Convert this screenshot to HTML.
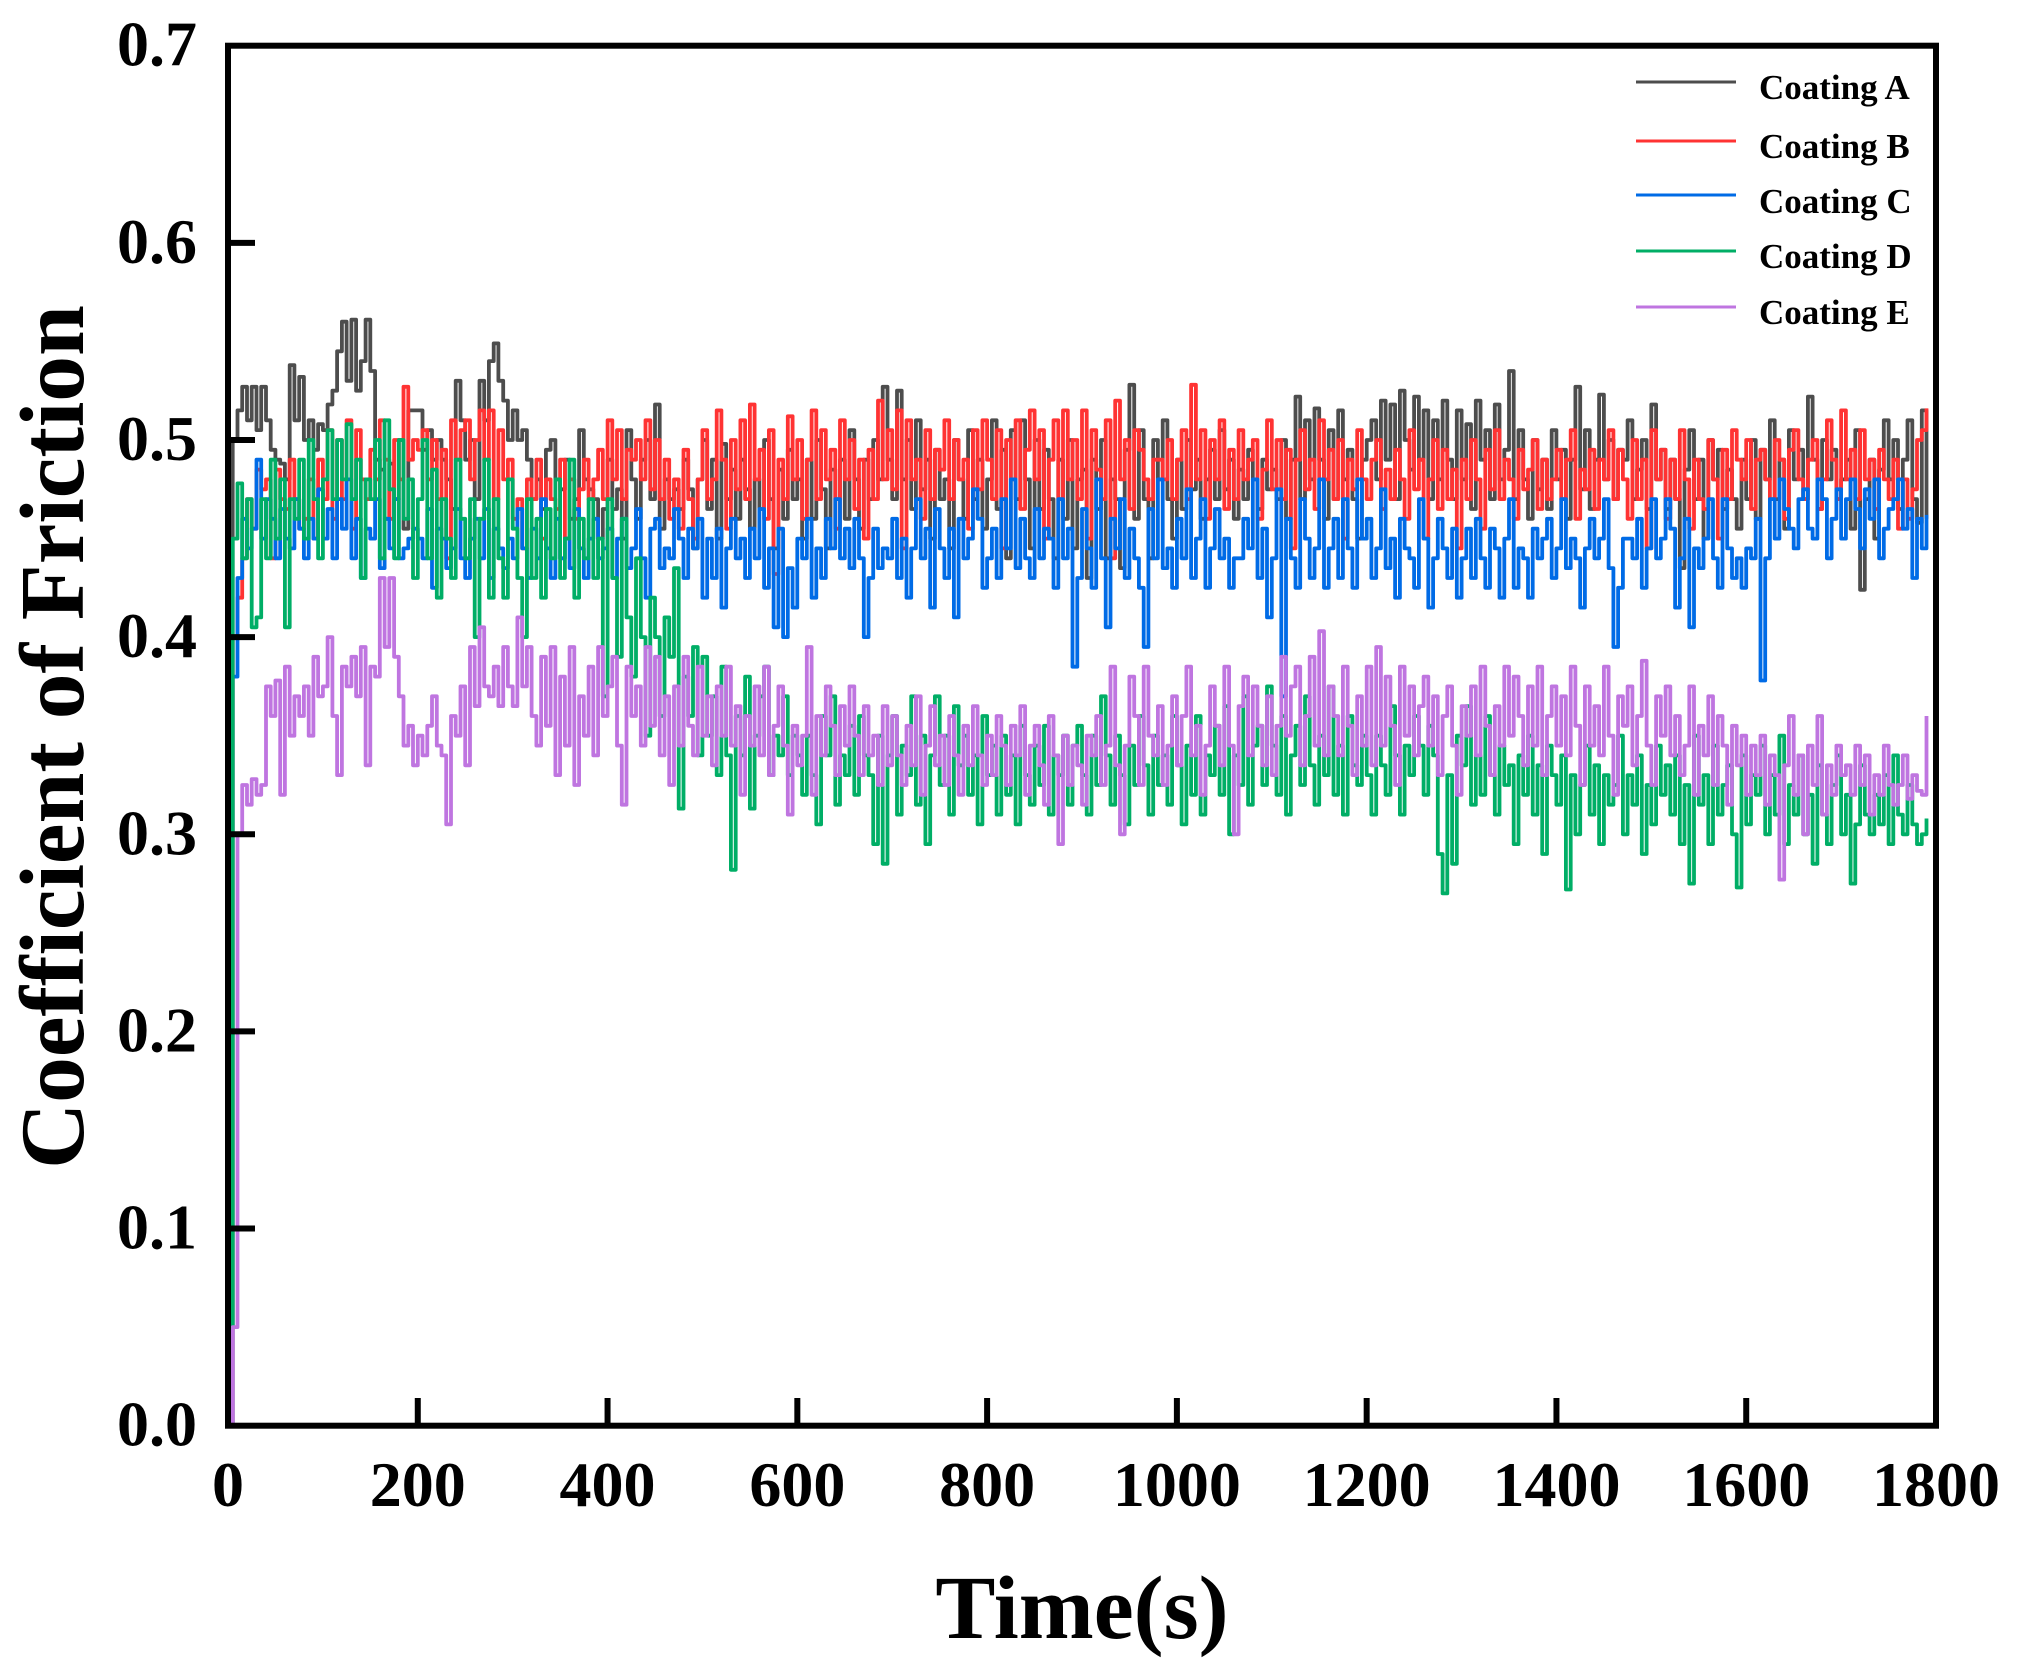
<!DOCTYPE html>
<html>
<head>
<meta charset="utf-8">
<title>Coefficient of Friction vs Time</title>
<style>
html,body{margin:0;padding:0;background:#fff;}
svg{display:block;}
text{font-family:"Liberation Serif",serif;font-weight:bold;fill:#000;}
</style>
</head>
<body>
<svg id="chart" xmlns="http://www.w3.org/2000/svg" width="2017" height="1674" viewBox="0 0 2017 1674">
<rect x="0" y="0" width="2017" height="1674" fill="#fff"/>
<g id="series"></g>
<rect x="228" y="45.7" width="1708" height="1380" fill="none" stroke="#000" stroke-width="6"/>
<g id="ticks"></g>
<text transform="translate(83,737) rotate(-90)" text-anchor="middle" font-size="91.5">Coefficient of Friction</text>
<text x="1082" y="1638" text-anchor="middle" font-size="90">Time(s)</text>
<g>
<line x1="1636" x2="1736" y1="82" y2="82" stroke="#4d4d4d" stroke-width="3"/>
<text x="1759" y="99" font-size="35">Coating A</text>
<line x1="1636" x2="1736" y1="141" y2="141" stroke="#ff3333" stroke-width="3"/>
<text x="1759" y="158" font-size="35">Coating B</text>
<line x1="1636" x2="1736" y1="195" y2="195" stroke="#006be6" stroke-width="3"/>
<text x="1759" y="213" font-size="35">Coating C</text>
<line x1="1636" x2="1736" y1="251" y2="251" stroke="#00ae66" stroke-width="3"/>
<text x="1759" y="268" font-size="35">Coating D</text>
<line x1="1636" x2="1736" y1="307" y2="307" stroke="#bf75e0" stroke-width="3"/>
<text x="1759" y="324" font-size="35">Coating E</text>
</g>
</svg>
<script>
const sampleStepSeconds = 5;
const xTickLabels = ["0","200","400","600","800","1000","1200","1400","1600","1800"];
const yTickLabels = ["0.0","0.1","0.2","0.3","0.4","0.5","0.6","0.7"];

const coatingA = [
0,.500,.515,.527,.510,.527,.505,.527,.510,.495,.490,.488,.480,.538,.510,.532,.500,.510,.495,.508,
.505,.518,.525,.545,.560,.530,.561,.525,.540,.561,.535,.490,.485,.460,.488,.470,.500,.455,.515,.515,
.515,.495,.505,.490,.500,.490,.480,.465,.530,.510,.490,.500,.470,.530,.510,.540,.549,.530,.520,.500,
.515,.500,.505,.490,.470,.480,.465,.495,.500,.480,.475,.490,.460,.470,.505,.480,.475,.470,.450,.465,
.490,.465,.475,.450,.505,.480,.460,.490,.500,.470,.518,.455,.480,.470,.475,.465,.490,.475,.445,.480,
.500,.465,.490,.450,.498,.470,.485,.460,.490,.475,.455,.480,.465,.500,.470,.445,.485,.460,.495,.470,
.480,.450,.490,.460,.500,.475,.445,.485,.470,.490,.460,.505,.480,.455,.490,.470,.500,.480,.527,.490,
.470,.525,.480,.500,.465,.510,.475,.490,.450,.495,.470,.480,.445,.500,.480,.460,.505,.470,.490,.455,
.480,.510,.465,.495,.440,.505,.470,.510,.480,.445,.500,.465,.495,.470,.440,.490,.460,.500,.445,.480,
.485,.430,.490,.465,.500,.440,.480,.470,.435,.495,.528,.460,.505,.470,.440,.500,.480,.510,.470,.450,
.490,.465,.500,.475,.490,.460,.480,.495,.470,.505,.475,.490,.460,.485,.470,.495,.480,.465,.490,.475,
.485,.470,.500,.460,.490,.522,.470,.510,.480,.516,.490,.460,.505,.470,.515,.480,.495,.470,.450,.490,
.500,.510,.480,.520,.490,.518,.470,.525,.500,.485,.522,.490,.515,.470,.510,.480,.520,.490,.470,.515,
.480,.508,.465,.520,.490,.505,.470,.518,.480,.495,.535,.470,.505,.480,.460,.500,.475,.490,.465,.505,
.480,.495,.460,.490,.527,.475,.505,.465,.490,.523,.480,.500,.470,.495,.490,.510,.470,.485,.500,.465,
.518,.480,.495,.465,.490,.470,.435,.485,.505,.470,.490,.450,.500,.480,.495,.465,.485,.470,.455,.490,
.470,.500,.460,.495,.480,.510,.470,.490,.455,.505,.480,.495,.470,.522,.490,.465,.500,.480,.495,.470,
.480,.490,.455,.505,.424,.470,.490,.450,.485,.510,.480,.500,.465,.490,.510,.470,.458,.515,.460
];

const coatingB = [
0,.400,.420,.440,.470,.455,.485,.475,.480,.440,.485,.470,.465,.490,.470,.455,.460,.480,.450,.490,
.470,.505,.460,.500,.470,.510,.455,.505,.480,.470,.495,.480,.510,.490,.460,.500,.480,.527,.490,.500,
.495,.505,.480,.500,.470,.495,.440,.510,.490,.505,.510,.480,.500,.515,.490,.515,.470,.505,.480,.490,
.460,.470,.445,.480,.470,.490,.450,.480,.470,.465,.490,.450,.480,.460,.475,.490,.470,.480,.495,.470,
.510,.480,.505,.470,.495,.490,.500,.480,.510,.475,.500,.470,.490,.460,.480,.455,.495,.470,.450,.480,
.505,.470,.480,.515,.490,.455,.500,.475,.510,.470,.518,.480,.495,.460,.505,.432,.490,.470,.512,.480,
.500,.460,.490,.515,.470,.505,.480,.495,.455,.510,.480,.500,.465,.490,.450,.495,.470,.520,.480,.505,
.475,.515,.445,.510,.480,.490,.460,.505,.470,.495,.485,.510,.470,.500,.480,.490,.455,.505,.475,.510,
.490,.470,.505,.445,.500,.480,.510,.465,.495,.515,.480,.505,.450,.490,.510,.470,.515,.480,.500,.470,
.515,.450,.505,.485,.470,.510,.440,.520,.480,.500,.465,.505,.495,.480,.470,.490,.490,.480,.500,.470,
.490,.505,.470,.528,.480,.505,.460,.500,.480,.510,.465,.495,.470,.505,.480,.490,.500,.460,.485,.510,
.475,.500,.470,.495,.445,.490,.505,.475,.490,.465,.510,.480,.495,.470,.500,.450,.490,.475,.505,.480,
.470,.490,.500,.465,.485,.470,.495,.480,.460,.505,.475,.490,.450,.480,.500,.465,.495,.470,.485,.445,
.490,.470,.500,.480,.455,.495,.475,.505,.470,.490,.480,.460,.495,.475,.485,.500,.465,.490,.470,.480,
.495,.470,.490,.505,.460,.485,.475,.495,.465,.490,.480,.505,.470,.495,.480,.460,.500,.470,.490,.445,
.505,.480,.495,.460,.490,.470,.505,.480,.455,.490,.470,.465,.500,.480,.450,.495,.470,.505,.490,.480,
.500,.465,.490,.495,.480,.470,.500,.490,.460,.495,.505,.480,.470,.490,.500,.465,.480,.510,.490,.470,
.515,.480,.495,.470,.505,.480,.490,.465,.495,.480,.470,.490,.455,.480,.460,.475,.500,.505,.516
];

const coatingC = [
0,.380,.430,.460,.445,.455,.490,.450,.470,.460,.440,.465,.450,.445,.470,.455,.440,.460,.450,.475,
.450,.465,.440,.470,.455,.480,.440,.460,.430,.455,.450,.470,.435,.460,.445,.470,.440,.445,.450,.455,
.450,.440,.465,.425,.455,.450,.435,.445,.465,.440,.430,.450,.460,.440,.465,.430,.455,.445,.435,.450,
.440,.465,.445,.430,.455,.440,.470,.445,.430,.460,.440,.450,.435,.465,.445,.430,.450,.460,.440,.445,
.455,.430,.450,.460,.435,.445,.465,.440,.420,.455,.460,.435,.445,.440,.465,.450,.430,.455,.445,.460,
.420,.450,.430,.455,.415,.445,.460,.440,.450,.430,.455,.440,.465,.425,.445,.405,.455,.400,.435,.415,
.450,.440,.460,.420,.445,.430,.460,.445,.470,.440,.455,.435,.460,.440,.400,.430,.455,.435,.445,.440,
.460,.430,.450,.420,.445,.470,.440,.455,.415,.465,.445,.430,.455,.410,.460,.440,.450,.475,.460,.425,
.440,.455,.430,.470,.445,.480,.435,.460,.440,.430,.465,.440,.455,.450,.425,.470,.440,.455,.385,.430,
.465,.445,.425,.480,.440,.405,.460,.445,.470,.430,.455,.440,.425,.395,.465,.440,.480,.435,.445,.425,
.460,.440,.475,.430,.450,.470,.425,.445,.465,.440,.450,.425,.440,.440,.460,.445,.480,.430,.455,.410,
.440,.475,.370,.460,.440,.425,.470,.450,.430,.445,.480,.425,.445,.460,.430,.470,.445,.425,.480,.450,
.460,.430,.445,.475,.435,.450,.420,.460,.445,.440,.425,.470,.450,.415,.440,.460,.445,.430,.455,.420,
.440,.455,.430,.460,.440,.425,.455,.445,.420,.450,.470,.425,.445,.440,.420,.455,.440,.450,.460,.430,
.445,.470,.435,.450,.440,.415,.445,.460,.440,.450,.470,.435,.395,.425,.450,.450,.440,.460,.425,.445,
.470,.440,.450,.470,.455,.415,.440,.460,.405,.445,.435,.450,.470,.440,.425,.470,.445,.430,.440,.425,
.445,.440,.460,.378,.440,.470,.450,.480,.465,.455,.445,.470,.475,.455,.450,.480,.470,.440,.460,.475,
.450,.470,.480,.465,.445,.475,.460,.480,.440,.455,.465,.470,.480,.455,.465,.430,.460,.445,.462
];

const coatingD = [
.050,.450,.478,.440,.470,.405,.410,.470,.440,.490,.450,.480,.405,.470,.460,.490,.450,.500,.470,.440,
.480,.505,.470,.500,.480,.508,.470,.490,.430,.480,.470,.500,.440,.510,.475,.440,.500,.460,.480,.430,
.470,.500,.440,.485,.420,.470,.450,.430,.490,.460,.440,.470,.400,.460,.490,.420,.470,.440,.420,.480,
.455,.430,.400,.470,.430,.460,.420,.465,.440,.480,.430,.450,.490,.420,.460,.440,.470,.430,.450,.370,
.470,.430,.390,.460,.410,.380,.440,.400,.350,.420,.400,.360,.410,.390,.435,.313,.380,.360,.395,.340,
.390,.350,.370,.330,.385,.340,.282,.360,.340,.380,.313,.350,.370,.385,.330,.350,.340,.370,.330,.350,
.340,.320,.350,.330,.305,.360,.340,.370,.315,.340,.330,.355,.320,.360,.340,.330,.295,.350,.285,.340,
.360,.310,.345,.330,.370,.315,.350,.295,.340,.370,.325,.350,.310,.365,.335,.350,.320,.340,.305,.360,
.330,.345,.310,.350,.320,.340,.305,.355,.330,.315,.345,.325,.355,.310,.340,.330,.350,.315,.345,.355,
.330,.310,.350,.325,.370,.340,.315,.350,.330,.305,.345,.325,.360,.335,.310,.350,.325,.340,.315,.360,
.335,.305,.345,.320,.360,.310,.340,.330,.355,.320,.365,.300,.340,.325,.370,.315,.345,.355,.325,.375,
.345,.320,.360,.310,.340,.355,.325,.370,.335,.315,.350,.330,.375,.320,.345,.310,.360,.335,.325,.350,
.330,.310,.350,.335,.320,.365,.340,.310,.345,.330,.360,.345,.320,.355,.340,.290,.270,.330,.285,.350,
.335,.365,.315,.340,.320,.360,.330,.310,.345,.325,.335,.295,.340,.320,.350,.310,.335,.290,.345,.330,
.315,.340,.272,.330,.300,.325,.345,.310,.335,.295,.330,.315,.325,.350,.300,.330,.315,.340,.290,.325,
.305,.345,.320,.335,.310,.340,.295,.325,.275,.350,.315,.330,.295,.345,.310,.325,.335,.300,.273,.340,
.305,.330,.320,.345,.300,.330,.310,.350,.295,.325,.310,.340,.300,.320,.285,.335,.310,.295,.325,.340,
.300,.320,.275,.305,.335,.310,.300,.320,.305,.330,.295,.340,.310,.300,.325,.305,.295,.300,.308
];

const coatingE = [
0,.050,.300,.325,.315,.328,.320,.325,.375,.360,.378,.320,.385,.350,.370,.360,.375,.350,.390,.370,
.375,.400,.360,.330,.385,.375,.390,.370,.395,.335,.385,.380,.430,.395,.430,.390,.370,.345,.355,.335,
.350,.340,.355,.370,.345,.340,.305,.360,.350,.375,.335,.395,.365,.405,.375,.370,.385,.365,.395,.375,
.365,.410,.375,.395,.360,.345,.390,.355,.395,.330,.380,.345,.395,.325,.370,.350,.385,.340,.395,.360,
.375,.390,.345,.315,.385,.360,.375,.345,.395,.355,.390,.340,.370,.325,.375,.345,.390,.355,.340,.385,
.350,.370,.335,.375,.350,.385,.345,.365,.320,.360,.345,.375,.340,.385,.330,.355,.375,.345,.310,.355,
.335,.350,.395,.320,.360,.340,.375,.355,.330,.365,.345,.375,.350,.330,.365,.340,.350,.325,.365,.335,
.360,.340,.325,.355,.335,.370,.320,.345,.365,.335,.350,.325,.360,.340,.320,.355,.335,.365,.340,.325,
.350,.330,.360,.345,.325,.355,.340,.365,.320,.345,.355,.335,.315,.360,.340,.295,.350,.325,.345,.335,
.315,.350,.340,.360,.325,.345,.385,.335,.300,.345,.380,.360,.325,.385,.350,.340,.365,.325,.345,.370,
.335,.360,.385,.340,.355,.320,.345,.375,.355,.335,.385,.345,.300,.365,.380,.340,.375,.355,.335,.370,
.330,.355,.390,.350,.375,.385,.335,.360,.390,.345,.403,.340,.375,.360,.340,.385,.355,.330,.370,.345,
.385,.335,.395,.345,.380,.355,.325,.385,.350,.375,.340,.365,.380,.345,.370,.330,.360,.375,.345,.320,
.365,.350,.375,.340,.385,.355,.330,.365,.345,.385,.350,.380,.360,.335,.375,.345,.385,.330,.360,.375,
.345,.370,.340,.385,.355,.325,.375,.345,.365,.340,.385,.350,.320,.370,.355,.375,.335,.360,.388,.345,
.325,.370,.350,.375,.340,.360,.330,.345,.375,.320,.355,.340,.370,.325,.360,.345,.315,.355,.335,.350,
.320,.345,.330,.350,.315,.340,.330,.277,.335,.360,.320,.340,.300,.345,.325,.360,.310,.335,.320,.345,
.330,.335,.320,.345,.325,.340,.310,.330,.320,.345,.325,.315,.325,.340,.318,.330,.322,.320,.360
];

const allSeries = [
  ["coating-a", coatingA, "#4d4d4d"],
  ["coating-b", coatingB, "#ff3333"],
  ["coating-c", coatingC, "#006be6"],
  ["coating-d", coatingD, "#00ae66"],
  ["coating-e", coatingE, "#bf75e0"]
];

const NS = "http://www.w3.org/2000/svg";
function xScale(t){ return 228 + t * 1708 / 1800; }
function yScale(v){ return 1425.7 - v * 1380 / 0.7; }

const seriesGroup = document.getElementById("series");
allSeries.forEach(function(s){
  const values = s[1];
  let d = "M" + xScale(0).toFixed(1) + " " + yScale(values[0]).toFixed(1);
  for (let i = 1; i < values.length; i++) {
    d += "H" + xScale(i * sampleStepSeconds).toFixed(1) + "V" + yScale(values[i]).toFixed(1);
  }
  const p = document.createElementNS(NS, "path");
  p.setAttribute("d", d);
  p.setAttribute("fill", "none");
  p.setAttribute("stroke", s[2]);
  p.setAttribute("stroke-width", "3.8");
  p.setAttribute("stroke-linejoin", "round");
  
  
  seriesGroup.appendChild(p);
});

const tickGroup = document.getElementById("ticks");
xTickLabels.forEach(function(label){
  const x = xScale(Number(label));
  if (label !== "0" && label !== "1800") {
    const m = document.createElementNS(NS, "line");
    m.setAttribute("x1", x); m.setAttribute("x2", x);
    m.setAttribute("y1", 1425.7); m.setAttribute("y2", 1398);
    m.setAttribute("stroke", "#000"); m.setAttribute("stroke-width", "6");
    
    
    tickGroup.appendChild(m);
  }
  const t = document.createElementNS(NS, "text");
  t.setAttribute("x", x); t.setAttribute("y", 1506);
  t.setAttribute("text-anchor", "middle"); t.setAttribute("font-size", "64");
  t.textContent = label;
  
  
  tickGroup.appendChild(t);
});
yTickLabels.forEach(function(label){
  const y = yScale(Number(label));
  if (label !== "0.0" && label !== "0.7") {
    const m = document.createElementNS(NS, "line");
    m.setAttribute("x1", 228); m.setAttribute("x2", 255);
    m.setAttribute("y1", y); m.setAttribute("y2", y);
    m.setAttribute("stroke", "#000"); m.setAttribute("stroke-width", "6");
    
    
    tickGroup.appendChild(m);
  }
  const t = document.createElementNS(NS, "text");
  t.setAttribute("x", 197); t.setAttribute("y", y + 20);
  t.setAttribute("text-anchor", "end"); t.setAttribute("font-size", "64");
  t.textContent = label;
  
  
  tickGroup.appendChild(t);
});
</script>
</body>
</html>
